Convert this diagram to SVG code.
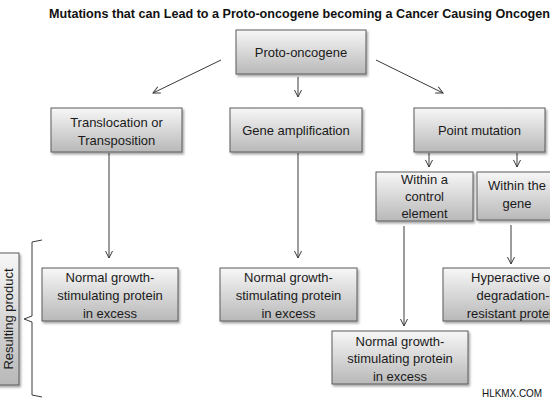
<svg xmlns="http://www.w3.org/2000/svg" width="550" height="400" viewBox="0 0 550 400">
<defs>
<linearGradient id="g" x1="0" y1="0" x2="0" y2="1">
<stop offset="0" stop-color="#f7f7f7"/>
<stop offset="1" stop-color="#b8b8b8"/>
</linearGradient>
<filter id="sh" x="-10%" y="-10%" width="130%" height="140%">
<feDropShadow dx="1.5" dy="2" stdDeviation="1.2" flood-color="#000" flood-opacity="0.35"/>
</filter>
<marker id="ah" markerWidth="10" markerHeight="10" refX="8" refY="4" orient="auto" markerUnits="userSpaceOnUse">
<path d="M1,0.5 L8,4 L1,7.5" fill="none" stroke="#3a3a3a" stroke-width="1"/>
</marker>
</defs>
<style>
.box{fill:url(#g);stroke:#5a5a5a;stroke-width:1;filter:url(#sh)}
.t{font-family:"Liberation Sans",Arial,sans-serif;font-size:13px;fill:#1a1a1a;text-anchor:middle;dominant-baseline:central}
.c{fill:none;stroke:#3a3a3a;stroke-width:1}
</style>
<rect width="550" height="400" fill="#fff"/>
<text x="49" y="18" font-family="'Liberation Sans',Arial,sans-serif" font-size="13.5" font-weight="bold" fill="#111" textLength="508" lengthAdjust="spacingAndGlyphs">Mutations that can Lead to a Proto-oncogene becoming a Cancer Causing Oncogene</text>

<g id="connectors">
<line class="c" x1="221" y1="60" x2="153" y2="93" marker-end="url(#ah)"/>
<line class="c" x1="298" y1="77" x2="298" y2="97" marker-end="url(#ah)"/>
<line class="c" x1="376" y1="60" x2="443" y2="93" marker-end="url(#ah)"/>
<line class="c" x1="109" y1="153" x2="109" y2="258" marker-end="url(#ah)"/>
<line class="c" x1="298" y1="153" x2="298" y2="258" marker-end="url(#ah)"/>
<line class="c" x1="429" y1="153" x2="429" y2="167" marker-end="url(#ah)"/>
<line class="c" x1="517" y1="153" x2="517" y2="167" marker-end="url(#ah)"/>
<line class="c" x1="404" y1="226" x2="404" y2="326" marker-end="url(#ah)"/>
<line class="c" x1="511" y1="225" x2="511" y2="264" marker-end="url(#ah)"/>
<path class="c" d="M42,240 L32,242 L32,316 L24,319 L32,322 L32,395 L42,397"/>
</g>

<g id="proto"><rect class="box" x="236" y="30" width="130" height="44"/><text class="t" x="301" y="52">Proto-oncogene</text></g>
<g id="transloc"><rect class="box" x="51" y="108" width="131" height="44"/><text class="t" x="116.5" y="122">Translocation or</text><text class="t" x="116.5" y="140">Transposition</text></g>
<g id="geneamp"><rect class="box" x="230" y="108" width="132" height="44"/><text class="t" x="296" y="130">Gene amplification</text></g>
<g id="point"><rect class="box" x="414" y="108" width="131" height="44"/><text class="t" x="479.5" y="130">Point mutation</text></g>
<g id="control"><rect class="box" x="376" y="172" width="97" height="49"/><text class="t" x="424.5" y="179">Within a</text><text class="t" x="424.5" y="196">control</text><text class="t" x="424.5" y="213">element</text></g>
<g id="withingene"><rect class="box" x="477" y="172" width="80" height="48"/><text class="t" x="517" y="185">Within the</text><text class="t" x="517" y="203">gene</text></g>
<g id="normal1"><rect class="box" x="42" y="268" width="136" height="53"/><text class="t" x="110" y="277">Normal growth-</text><text class="t" x="110" y="295">stimulating protein</text><text class="t" x="110" y="313">in excess</text></g>
<g id="normal2"><rect class="box" x="220" y="268" width="137" height="53"/><text class="t" x="288.5" y="277">Normal growth-</text><text class="t" x="288.5" y="295">stimulating protein</text><text class="t" x="288.5" y="313">in excess</text></g>
<g id="normal3"><rect class="box" x="332" y="331" width="136" height="53"/><text class="t" x="400" y="341">Normal growth-</text><text class="t" x="400" y="358">stimulating protein</text><text class="t" x="400" y="376">in excess</text></g>
<g id="hyper"><rect class="box" x="443" y="268" width="140" height="53"/><text class="t" x="513" y="277">Hyperactive or</text><text class="t" x="513" y="295">degradation-</text><text class="t" x="513" y="313">resistant protein</text></g>
<g id="result"><rect class="box" x="-6" y="253" width="25" height="132"/><text class="t" transform="translate(8,319) rotate(-90)" x="0" y="0">Resulting product</text></g>

<text x="482" y="397" font-family="'Liberation Sans',Arial,sans-serif" font-size="11" fill="#111" textLength="60" lengthAdjust="spacingAndGlyphs">HLKMX.COM</text>
</svg>
